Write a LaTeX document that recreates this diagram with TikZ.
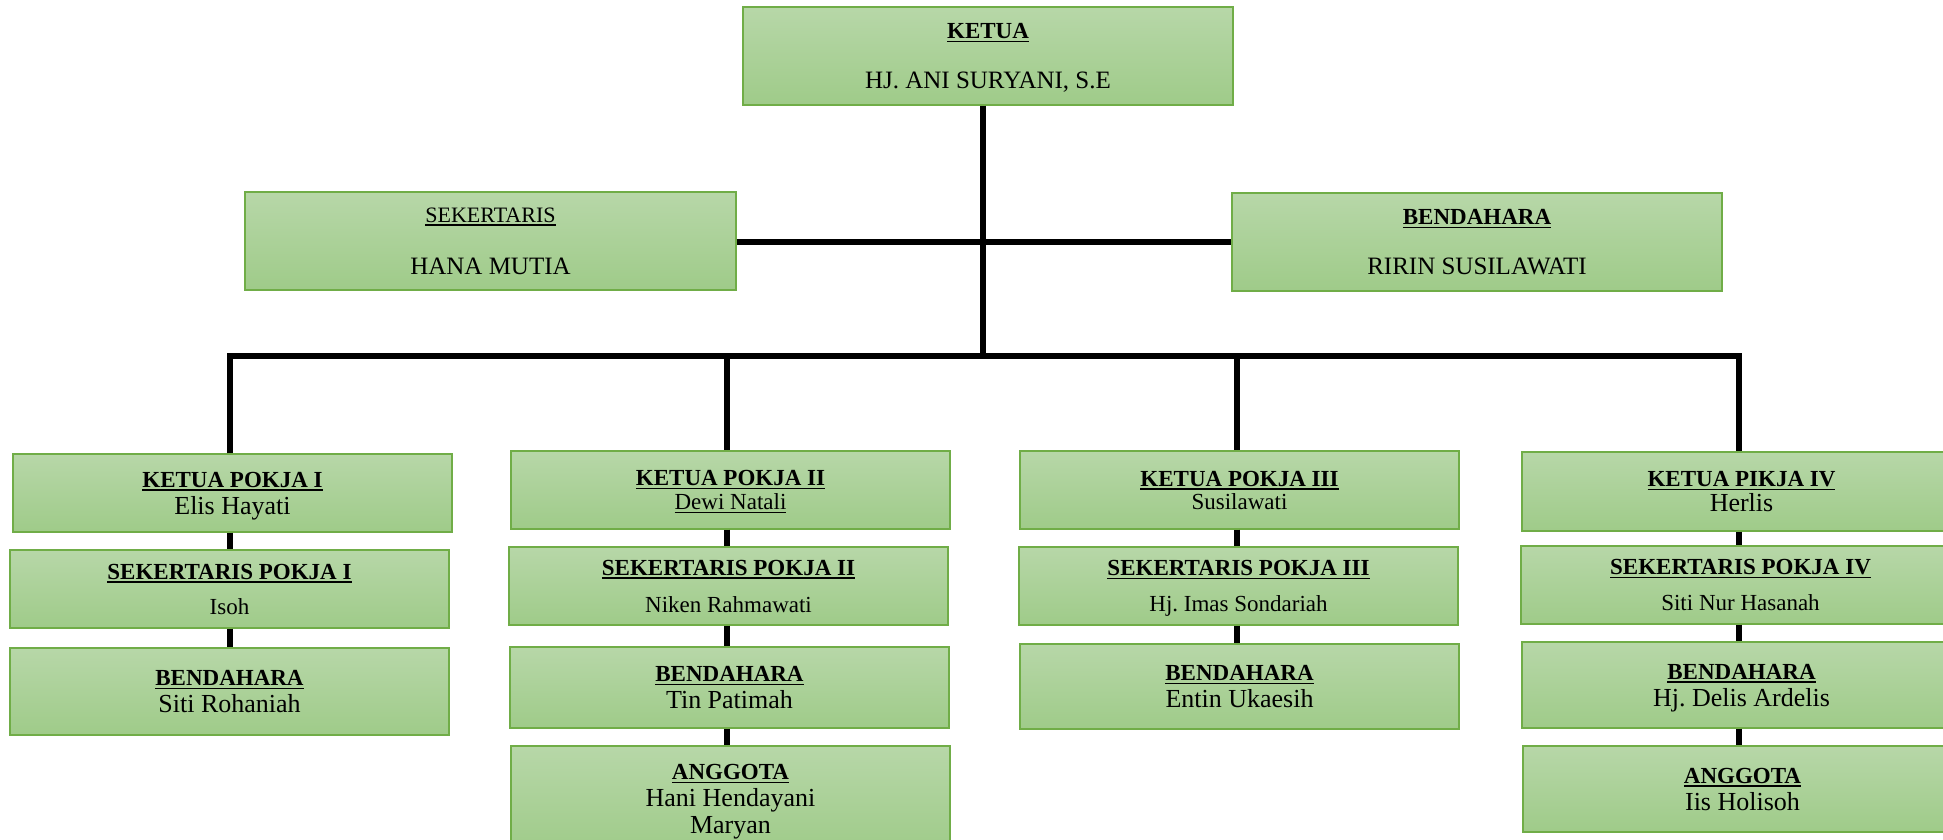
\documentclass[tikz,border=0pt]{standalone}
\usepackage{fontspec}
\setmainfont{Liberation Serif}
\frenchspacing
\definecolor{gtop}{RGB}{183,215,168}
\definecolor{gbot}{RGB}{159,203,137}
\definecolor{gline}{RGB}{112,173,71}
\newsavebox\ulbox
\newcommand\ulx[2]{\sbox\ulbox{\fontsize{#1}{13.5}\selectfont #2}\leavevmode\rlap{\rule[-1.8pt]{\wd\ulbox}{0.8pt}}\usebox\ulbox}
\newcommand\ttl[1]{\ulx{11.5}{\bfseries #1}}
\newcommand\nodp[1]{\raisebox{0pt}[\height][0pt]{#1}}
\newcommand\bnm[1]{\nodp{\fontsize{13}{15}\selectfont #1}}
\newcommand\snm[1]{\nodp{\fontsize{11.5}{13.5}\selectfont #1}}
\newcommand\tnm[1]{\nodp{\fontsize{12.5}{14}\selectfont #1}}
\begin{document}
\begin{tikzpicture}[x=0.5pt,y=-0.5pt,
  obox/.style={draw=gline, line width=0.7pt, top color=gtop, bottom color=gbot,
    align=center, inner sep=0pt, font=\fontsize{11.5}{13.5}\selectfont, text=black},
  colbox/.style={obox, minimum width=219.5pt, minimum height=39pt},
  conn/.style={line width=3pt, black}]
\useasboundingbox (0,0) rectangle (1943,840);
\clip (0,0) rectangle (1943,840);

% top level
\node[obox, font=\fontsize{12.2}{14}\selectfont, minimum width=245pt, minimum height=49pt] (ketua) at (988,56)
  {\ttl{KETUA}\\[11pt]\tnm{HJ. ANI SURYANI, S.E}};
\node[obox, font=\fontsize{12.2}{14}\selectfont, minimum width=245.5pt, minimum height=49pt] (sek) at (490.5,241)
  {\ulx{11}{SEKERTARIS}\\[12pt]\tnm{HANA MUTIA}};
\node[obox, font=\fontsize{12.2}{14}\selectfont, minimum width=245pt, minimum height=49pt] (bend) at (1477,242)
  {\ttl{BENDAHARA}\\[11pt]\tnm{RIRIN SUSILAWATI}};

% column 1
\node[colbox] (k1) at (232.5,493) {\ttl{KETUA POKJA I}\\\bnm{Elis Hayati}};
\node[colbox] (s1) at (229.5,589) {\ttl{SEKERTARIS POKJA I}\\[4pt]\snm{Isoh}};
\node[colbox, minimum height=43.5pt] (b1) at (229.5,691.5) {\ttl{BENDAHARA}\\\bnm{Siti Rohaniah}};

% column 2
\node[colbox] (k2) at (730.5,490) {\ttl{KETUA POKJA II}\\[-1.5pt]\nodp{\ulx{11.5}{Dewi Natali}}};
\node[colbox] (s2) at (728.5,586) {\ttl{SEKERTARIS POKJA II}\\[5pt]\snm{Niken Rahmawati}};
\node[colbox, minimum height=40.5pt] (b2) at (729.5,687.5) {\ttl{BENDAHARA}\\\bnm{Tin Patimah}};
\node[colbox, minimum height=53pt] (a2) at (730.5,799) {\ttl{ANGGOTA}\\\bnm{Hani Hendayani}\\\bnm{Maryan}};

% column 3
\node[colbox] (k3) at (1239.5,490) {\ttl{KETUA POKJA III}\\[-2pt]\snm{Susilawati}};
\node[colbox] (s3) at (1238.5,586) {\ttl{SEKERTARIS POKJA III}\\[4.5pt]\snm{Hj. Imas Sondariah}};
\node[colbox, minimum height=42.5pt] (b3) at (1239.5,686.5) {\ttl{BENDAHARA}\\\bnm{Entin Ukaesih}};

% column 4
\node[colbox, minimum height=39.5pt] (k4) at (1741.5,491.5) {\ttl{KETUA PIKJA IV}\\[-1pt]\bnm{Herlis}};
\node[colbox] (s4) at (1740.5,585) {\ttl{SEKERTARIS POKJA IV}\\[4.5pt]\snm{Siti Nur Hasanah}};
\node[colbox, minimum height=43pt] (b4) at (1741.5,685) {\ttl{BENDAHARA}\\\bnm{Hj. Delis Ardelis}};
\node[colbox, minimum height=43pt] (a4) at (1742.5,789) {\ttl{ANGGOTA}\\\bnm{Iis Holisoh}};

% connector points
\coordinate (mid) at (983,242);
\coordinate (hub) at (983,356);
\coordinate (c1) at (230,356);
\coordinate (c2) at (727,356);
\coordinate (c3) at (1237,356);
\coordinate (c4) at (1739,356);

% top connectors
\draw[conn] (ketua.south -| hub) -- (hub);
\draw[conn] (sek.east |- mid) -- (bend.west |- mid);
\draw[conn, line join=miter] (k1.north -| c1) -- (c1) -- (c4) -- (k4.north -| c4);
\draw[conn] (c2) -- (k2.north -| c2);
\draw[conn] (c3) -- (k3.north -| c3);

% column connectors
\draw[conn] (k1.south -| c1) -- (s1.north -| c1);
\draw[conn] (s1.south -| c1) -- (b1.north -| c1);
\draw[conn] (k2.south -| c2) -- (s2.north -| c2);
\draw[conn] (s2.south -| c2) -- (b2.north -| c2);
\draw[conn] (b2.south -| c2) -- (a2.north -| c2);
\draw[conn] (k3.south -| c3) -- (s3.north -| c3);
\draw[conn] (s3.south -| c3) -- (b3.north -| c3);
\draw[conn] (k4.south -| c4) -- (s4.north -| c4);
\draw[conn] (s4.south -| c4) -- (b4.north -| c4);
\draw[conn] (b4.south -| c4) -- (a4.north -| c4);
\end{tikzpicture}
\end{document}
